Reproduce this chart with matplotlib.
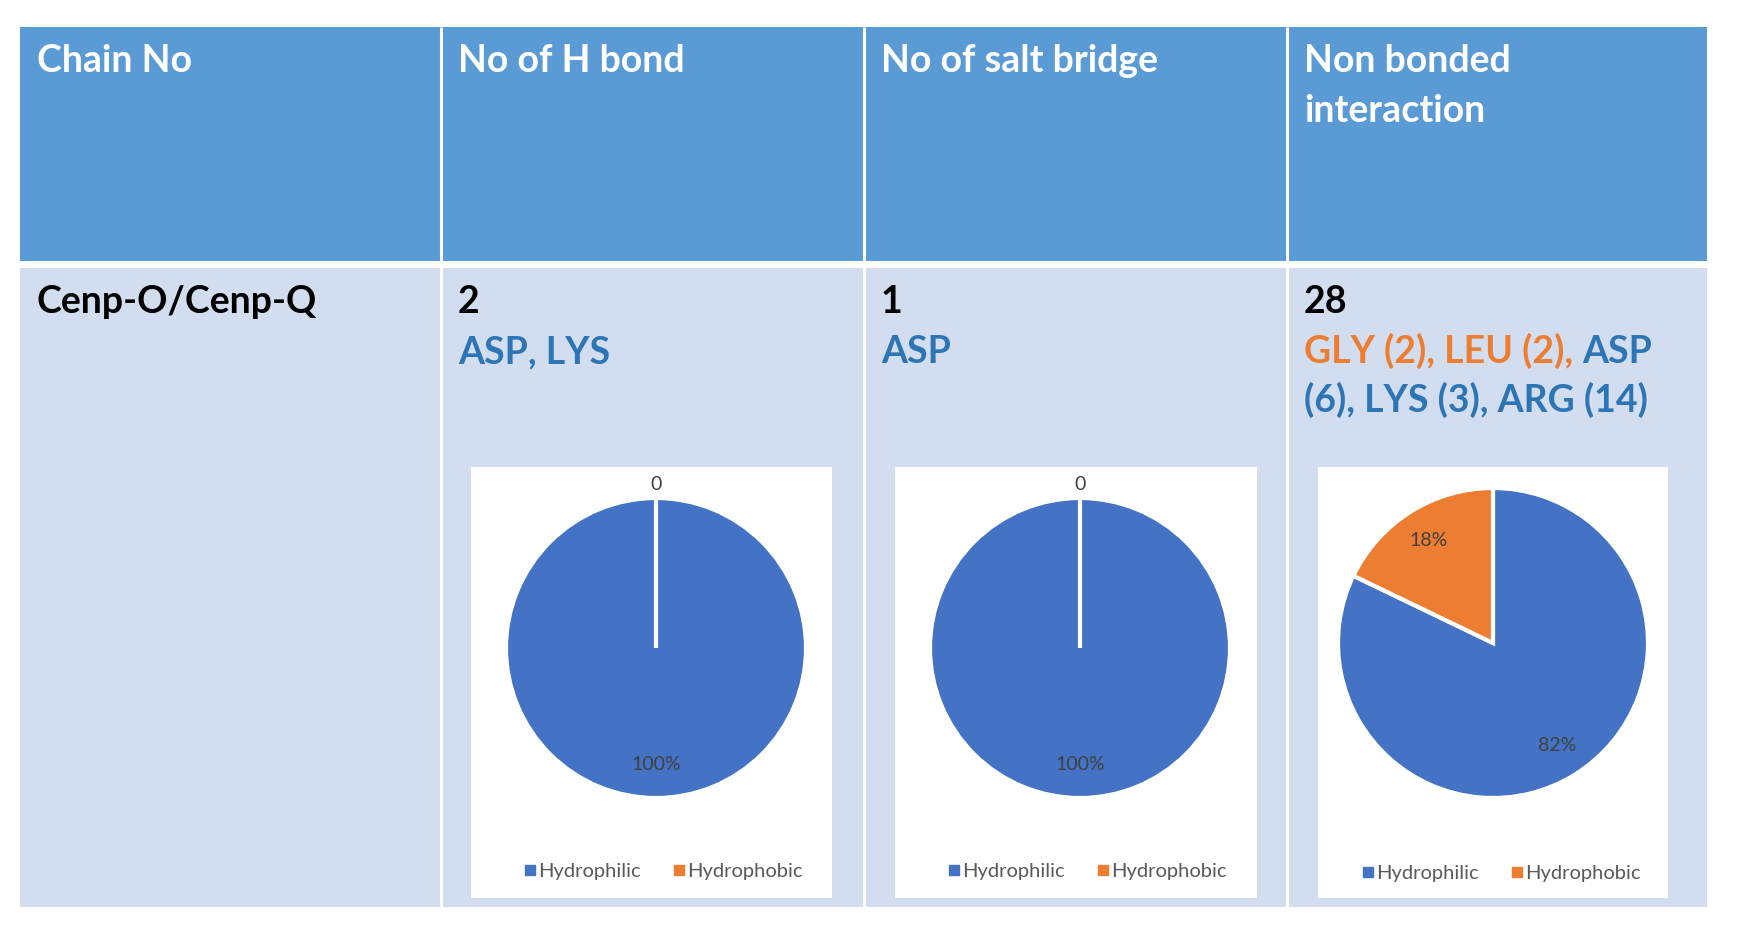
import numpy as np
import matplotlib.pyplot as plt
from matplotlib.patches import Rectangle
from matplotlib.lines import Line2D

# table content
headers = ['Chain No', 'No of H bond', 'No of salt bridge', 'Non bonded', 'interaction']
chain_name = 'Cenp-O/Cenp-Q'
counts = ['2', '1', '28']
hbond_res = 'ASP, LYS'
salt_res = 'ASP'
nonbond_line1 = [('GLY (2), LEU (2), ', 'orange'), ('ASP', 'blue')]
nonbond_line2 = '(6), LYS (3), ARG (14)'

# pie data: hydrophilic, hydrophobic
pie_labels = ['Hydrophilic', 'Hydrophobic']
hbond_vals = [2, 0]
salt_vals = [1, 0]
nonbond_vals = [23, 5]

HEAD = '#5B9BD5'
BODY = '#D2DEEF'
BLUE_TXT = '#2E75B6'
ORANGE_TXT = '#ED7D31'
PIE_COLORS = ['#4472C4', '#ED7D31']
W, H = 1740, 936
FONT = 'Lato'

fig = plt.figure(figsize=(W / 100, H / 100), dpi=100)
ax = fig.add_axes([0, 0, 1, 1])
ax.set_xlim(0, W)
ax.set_ylim(H, 0)
ax.axis('off')

# cell grid (pixel space)
col_edges = [20, 441, 864, 1287, 1707]
head_top, head_bot = 27, 261
body_top, body_bot = 268, 907
for i in range(4):
    x0, x1 = col_edges[i], col_edges[i + 1]
    ax.add_patch(Rectangle((x0, head_top), x1 - x0, head_bot - head_top, fc=HEAD, ec='none'))
    ax.add_patch(Rectangle((x0, body_top), x1 - x0, body_bot - body_top, fc=BODY, ec='none'))
for x in col_edges[1:-1]:
    ax.plot([x, x], [head_top, body_bot], color='white', lw=2.2, solid_capstyle='butt')

tx = [e + 17 for e in col_edges[:4]]
fs = 27
hdr = dict(color='white', fontsize=fs, fontweight='bold', family=FONT, va='baseline')
ax.text(tx[0], 72, headers[0], **hdr)
ax.text(tx[1], 72, headers[1], **hdr)
ax.text(tx[2], 72, headers[2], **hdr)
ax.text(tx[3], 72, headers[3], **hdr)
ax.text(tx[3], 122, headers[4], **hdr)

body = dict(fontsize=fs, fontweight='bold', family=FONT, va='baseline')
ax.text(tx[0], 313, chain_name, color='black', **body)
for i, c in enumerate(counts):
    ax.text(tx[i + 1], 313, c, color='black', **body)
ax.text(tx[1], 363, hbond_res, color=BLUE_TXT, **body)
ax.text(tx[2], 363, salt_res, color=BLUE_TXT, **body)

renderer = fig.canvas.get_renderer()
x = tx[3]
for part, col in nonbond_line1:
    t = ax.text(x, 363, part, color=ORANGE_TXT if col == 'orange' else BLUE_TXT, **body)
    bb = t.get_window_extent(renderer)
    x += bb.width  # dpi 100 -> 1 data unit per pixel
ax.text(tx[3], 412, nonbond_line2, color=BLUE_TXT, **body)

# white chart boxes
boxes = [(471, 832), (895, 1257), (1318, 1668)]
box_top, box_bot = 467, 898
for x0, x1 in boxes:
    ax.add_patch(Rectangle((x0, box_top), x1 - x0, box_bot - box_top, fc='white', ec='none'))

pies = [
    (hbond_vals, 656, 648, 150, 662, 871),
    (salt_vals, 1080, 648, 150, 1086, 871),
    (nonbond_vals, 1493, 643, 155, 1500, 873),
]
lw = 3.0
for vals, cx, cy, r, lx, ly in pies:
    pax = fig.add_axes([(cx - r) / W, 1 - (cy + r) / H, 2 * r / W, 2 * r / H])
    wedges, _ = pax.pie(vals, colors=PIE_COLORS, startangle=90, counterclock=False,
                        radius=1.0, wedgeprops=dict(edgecolor='white', linewidth=lw))
    pax.set_xlim(-1, 1)
    pax.set_ylim(-1, 1)
    pax.set_aspect('equal')
    pax.axis('off')
    total = sum(vals)
    for w, v in zip(wedges, vals):
        ang = np.deg2rad((w.theta1 + w.theta2) / 2)
        if v == 0:
            d, lab = 1.09, '0'
        else:
            d, lab = 0.78, f'{100 * v / total:.0f}%'
        pax.text(d * np.cos(ang), d * np.sin(ang), lab, ha='center', va='center',
                 fontsize=14, color='#404040', family=FONT)
    handles = [Line2D([], [], marker='s', ls='none', markersize=6.5, color=c) for c in PIE_COLORS]
    fig.legend(handles, pie_labels, loc='center', bbox_to_anchor=(lx / W, 1 - ly / H),
               ncol=2, frameon=False, handletextpad=0.0, columnspacing=1.5,
               prop=dict(family=FONT, size=14.5), labelcolor='#595959', handlelength=0.8)

fig.savefig('out.png', dpi=100, facecolor='white')
